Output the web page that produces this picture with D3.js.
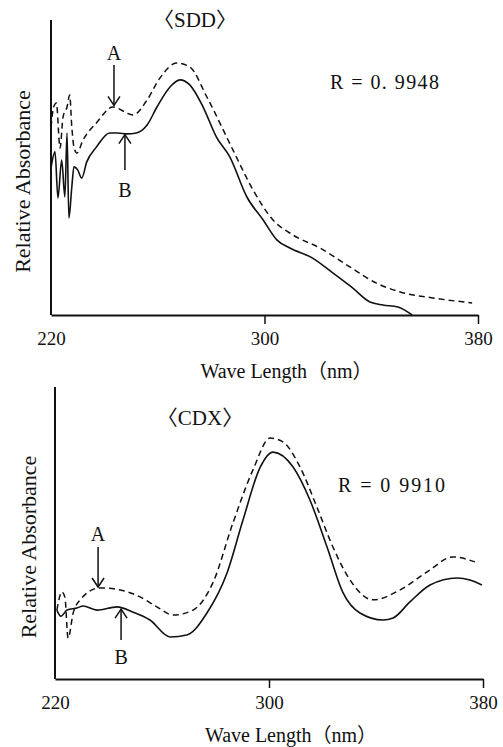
<!DOCTYPE html>
<html>
<head>
<meta charset="utf-8">
<script src="https://cdn.jsdelivr.net/npm/d3@7"></script>
<style>
  body { margin: 0; background: #fff; }
</style>
</head>
<body>
<svg id="chart" width="503" height="747"></svg>
<script>
// ---- data (absorbance in relative units 0-100) ----
const xTicks = [220, 300, 380];

// SDD, curve A (dashed)
const sddWaveA = [220, 221, 222, 223.4, 224.5, 226, 227, 227.8, 228.6, 229.7, 232, 237, 243.2, 250.8, 256, 260.8, 267, 272, 278.4, 288.2, 295.7, 303.2, 310.7, 320.8, 332, 342, 350.8, 363, 377.8];
const sddAbsA  = [63.7, 70.5, 71.9, 56.6, 67.1, 70.5, 74.6, 63.7, 56.9, 54.9, 59.3, 65.1, 70.5, 67.8, 72.9, 80.3, 85.4, 84.1, 73.9, 55.9, 42.4, 32.2, 27.1, 22.7, 16.3, 10.8, 7.8, 5.8, 4.1];
// SDD, curve B (solid)
const sddWaveB = [220, 221.5, 222.6, 224, 225.2, 226, 226.7, 227.8, 228.6, 230, 231.5, 233.4, 237, 242, 245, 248.4, 252, 256, 259.7, 264.6, 268.3, 272, 277, 282, 287, 293.4, 299.5, 304.7, 309.5, 318, 325.7, 333, 339.5, 344.4, 350, 355.3];
const sddAbsB  = [49.8, 55.3, 39.7, 52.5, 40, 61.7, 32.9, 43.4, 50.2, 49.2, 46.4, 51.9, 56.9, 61.7, 61.7, 61.4, 61.7, 64.4, 70.5, 77.3, 79.7, 78, 70.5, 60.3, 53.6, 40, 32.2, 25.4, 22.7, 19.3, 14.2, 9.2, 4.4, 3.4, 2.7, 0];

// CDX, curve A (dashed)
const cdxWaveA = [220.7, 222.6, 223.7, 224.9, 226.8, 229.3, 236.8, 244.3, 251.8, 258.1, 264.1, 271.6, 279, 286.5, 294, 300.4, 305.2, 311.6, 317.9, 323.9, 330.3, 338.9, 349, 359, 368.8, 377];
const cdxAbsA  = [23.6, 29.8, 28, 14, 22.6, 27, 31.2, 30.5, 28.1, 24.7, 21.9, 23.6, 32.9, 53.4, 71.6, 82.5, 81.2, 72.6, 58.9, 45.2, 33.9, 27.1, 30.5, 36.6, 41.8, 40.1];
// CDX, curve B (solid)
const cdxWaveB = [220.7, 222.2, 224.5, 228.2, 230.5, 235.7, 243.2, 249.2, 255.5, 263, 269.3, 276.8, 284.3, 290.3, 296.6, 301.5, 309, 315.3, 321.7, 327.7, 334, 342.6, 346.4, 352.7, 360.2, 370.3, 375.1, 379.6];
const cdxAbsB  = [23.6, 21.5, 23.6, 24.3, 25, 23.6, 24.7, 22.9, 20.2, 14.4, 15.1, 22.6, 36.3, 54.5, 72.3, 77.7, 72.6, 61.3, 45.2, 29.5, 22.6, 20.2, 20.9, 26.4, 32.2, 34.6, 33.9, 32.2];

const panels = [
  { title: '〈SDD〉', r: 'R = 0. 9948', top: 20, bottom: 315, left: 51, right: 478,
    waveA: sddWaveA, absA: sddAbsA, waveB: sddWaveB, absB: sddAbsB,
    titleX: 195, titleY: 27, rX: 330, rY: 89, rLen: 109, yLabX: 22,
    arrA: { w: 243.6, tail: 65, label: 60 }, arrB: { w: 247.7, tail: 170, label: 197 } },
  { title: '〈CDX〉', r: 'R = 0  9910', top: 387, bottom: 679, left: 55, right: 483,
    waveA: cdxWaveA, absA: cdxAbsA, waveB: cdxWaveB, absB: cdxAbsB,
    titleX: 200, titleY: 425, rX: 338, rY: 492, rLen: 107, yLabX: 28,
    arrA: { w: 236.1, tail: 547, label: 541 }, arrB: { w: 244.7, tail: 640, label: 664 } }
];

const svg = d3.select('#chart');

// serif text helper
function label(sel, size) {
  return sel.attr('font-size', size).attr('font-family', 'Tinos, "Liberation Serif", "Times New Roman", "Noto Sans CJK JP"').attr('fill', '#111');
}

panels.forEach(p => {
  let g = svg.append('g');
  let x = d3.scaleLinear().domain([220, 380]).range([p.left, p.right]);
  let y = d3.scaleLinear().domain([0, 100]).range([p.bottom, p.top]);

  // axes
  g.append('line')
    .attr('x1', p.left).attr('x2', p.left)
    .attr('y1', p.top).attr('y2', p.bottom)
    .attr('stroke', '#111').attr('stroke-width', 2);

  let xAxis = d3.axisBottom(x).tickValues(xTicks).tickSize(9).tickSizeOuter(0).tickFormat(d3.format('d'));
  let ax = g.append('g').attr('transform', 'translate(0,' + p.bottom + ')').call(xAxis);
  label(ax, 19);
  ax.select('.domain').attr('stroke', '#111').attr('stroke-width', 2);
  ax.selectAll('.tick line').attr('stroke', '#111').attr('stroke-width', 1.5);
  ax.selectAll('.tick').filter(d => d == 220).select('line').remove();
  label(ax.selectAll('.tick text'), 19).attr('y', 17).attr('dy', '0.71em');

  label(g.append('text'), 20)
    .attr('x', (p.left + p.right) / 2 + 22)
    .attr('y', p.bottom + 63)
    .attr('text-anchor', 'middle')
    .text('Wave Length（nm）');

  label(g.append('text'), 22)
    .attr('transform', 'translate(' + p.yLabX + ',' + ((p.top + p.bottom) / 2 + 14) + ') rotate(-90)')
    .attr('dy', '0.35em')
    .attr('text-anchor', 'middle')
    .text('Relative Absorbance');

  // curves
  let line = d3.line().curve(d3.curveMonotoneX);
  g.append('path')
    .datum(p.waveA.map((w, i) => [x(w), y(p.absA[i])]))
    .attr('d', line)
    .attr('fill', 'none').attr('stroke', '#111').attr('stroke-width', 1.5)
    .attr('stroke-dasharray', '6,4');
  g.append('path')
    .datum(p.waveB.map((w, i) => [x(w), y(p.absB[i])]))
    .attr('d', line)
    .attr('fill', 'none').attr('stroke', '#111').attr('stroke-width', 1.6);

  // title and R
  label(g.append('text'), 21).attr('x', p.titleX).attr('y', p.titleY)
    .attr('text-anchor', 'middle')
    .text(p.title);
  label(g.append('text'), 20).attr('x', p.rX).attr('y', p.rY)
    .attr('textLength', p.rLen).attr('lengthAdjust', 'spacing')
    .text(p.r);

  // arrows A (down to dashed) and B (up to solid)
  let tipA = y(d3.scaleLinear().domain(p.waveA).range(p.absA)(p.arrA.w)) - 2;
  let tipB = y(d3.scaleLinear().domain(p.waveB).range(p.absB)(p.arrB.w)) + 1;
  let ax1 = x(p.arrA.w), bx1 = x(p.arrB.w);

  g.append('line').attr('x1', ax1).attr('x2', ax1).attr('y1', p.arrA.tail).attr('y2', tipA)
    .attr('stroke', '#111').attr('stroke-width', 1.5);
  g.append('path').attr('d', 'M' + (ax1 - 6) + ',' + (tipA - 9) + 'L' + ax1 + ',' + tipA + 'L' + (ax1 + 6) + ',' + (tipA - 9))
    .attr('fill', 'none').attr('stroke', '#111').attr('stroke-width', 1.5);
  label(g.append('text'), 20).attr('x', ax1).attr('y', p.arrA.label)
    .attr('text-anchor', 'middle').text('A');

  g.append('line').attr('x1', bx1).attr('x2', bx1).attr('y1', p.arrB.tail).attr('y2', tipB)
    .attr('stroke', '#111').attr('stroke-width', 1.5);
  g.append('path').attr('d', 'M' + (bx1 - 6) + ',' + (tipB + 9) + 'L' + bx1 + ',' + tipB + 'L' + (bx1 + 6) + ',' + (tipB + 9))
    .attr('fill', 'none').attr('stroke', '#111').attr('stroke-width', 1.5);
  label(g.append('text'), 20).attr('x', bx1).attr('y', p.arrB.label)
    .attr('text-anchor', 'middle').text('B');
});
</script>
</body>
</html>
